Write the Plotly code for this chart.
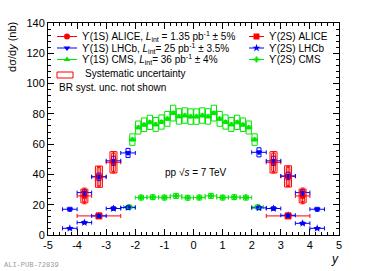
import plotly.graph_objects as go

# ---------------- data ----------------
# Upsilon(1S) ALICE
alice1s_y = [-3.75, -3.25, -2.75, 2.75, 3.25, 3.75]
alice1s_val = [25.8, 38.5, 48.0, 48.0, 38.7, 25.8]
alice1s_stat = [5.2, 6.8, 7.0, 7.0, 6.8, 5.2]
alice1s_syst = [4.5, 7.0, 7.0, 7.0, 7.0, 4.5]
alice1s_syst_unc = [3.8, 6.0, 6.0, 6.0, 6.0, 3.8]
alice1s_dy = [0.25] * 6

# Upsilon(2S) ALICE
alice2s_y = [-3.25, 3.25]
alice2s_val = [12.6, 12.6]
alice2s_stat = [1.3, 1.3]
alice2s_syst = [2.0, 2.0]
alice2s_dy = [0.75, 0.75]

# Upsilon(1S) LHCb
lhcb1s_y = [-4.25, -3.75, -3.25, -2.75, -2.25, 2.25, 2.75, 3.25, 3.75, 4.25]
lhcb1s_val = [17.0, 28.0, 38.4, 49.0, 54.2, 54.6, 49.0, 39.0, 28.0, 17.0]
lhcb1s_stat = [0.6, 0.8, 0.9, 1.0, 1.0, 1.0, 1.0, 0.9, 0.8, 0.6]
lhcb1s_syst = [1.3, 2.0, 2.5, 3.0, 3.0, 3.0, 3.0, 2.5, 2.0, 1.3]
lhcb1s_dy = [0.25] * 10

# Upsilon(2S) LHCb
lhcb2s_y = [-4.25, -3.75, -3.25, -2.75, -2.25, 2.25, 2.75, 3.25, 3.75, 4.25]
lhcb2s_val = [4.4, 8.2, 12.6, 17.5, 18.1, 17.9, 17.5, 13.0, 7.7, 4.4]
lhcb2s_stat = [0.3, 0.4, 0.5, 0.5, 0.5, 0.5, 0.5, 0.5, 0.4, 0.3]
lhcb2s_syst = [0.6, 0.8, 1.0, 1.2, 1.2, 1.2, 1.2, 1.0, 0.8, 0.6]
lhcb2s_dy = [0.25] * 10

# Upsilon(1S) CMS
cms1s_y = [-2.1, -1.9, -1.7, -1.5, -1.3, -1.1, -0.9, -0.7, -0.5, -0.3, -0.1,
           0.1, 0.3, 0.5, 0.7, 0.9, 1.1, 1.3, 1.5, 1.7, 1.9, 2.1]
cms1s_val = [63.0, 71.0, 72.8, 74.4, 73.0, 74.6, 76.7, 80.5, 78.3, 78.9, 78.2,
             78.2, 78.9, 78.3, 80.5, 76.7, 74.6, 73.0, 74.4, 72.8, 71.0, 63.0]
cms1s_stat = [1.0] * 22
cms1s_syst = [3.8, 4.3, 4.5, 4.7, 4.6, 4.7, 4.9, 5.2, 5.1, 5.1, 5.1,
              5.1, 5.1, 5.1, 5.2, 4.9, 4.7, 4.6, 4.7, 4.5, 4.3, 3.8]
cms1s_dy = [0.1] * 22

# Upsilon(2S) CMS
cms2s_y = [-2.2, -1.8, -1.4, -1.0, -0.6, -0.2, 0.2, 0.6, 1.0, 1.4, 1.8, 2.2]
cms2s_val = [18.5, 24.7, 25.0, 24.7, 25.8, 24.6, 24.7, 25.8, 24.7, 25.0, 24.7, 18.5]
cms2s_stat = [0.5] * 12
cms2s_syst = [1.3, 1.6, 1.6, 1.6, 1.7, 1.6, 1.6, 1.7, 1.6, 1.6, 1.6, 1.3]
cms2s_dy = [0.2] * 12

x_ticks = [-5, -4, -3, -2, -1, 0, 1, 2, 3, 4, 5]
x_ticktext = ["-5", "-4", "-3", "-2", "-1", "0", "1", "2", "3", "4", "5"]
y_ticks = [0, 20, 40, 60, 80, 100, 120, 140]

RED, BLUE, GREEN = "#ff0000", "#0000ff", "#00e600"
FONT = "Liberation Sans, Arial, sans-serif"

fig = go.Figure()
shapes = []


def add_boxes(xs, vals, syst, half_w, color, width=1):
    for x, v, s in zip(xs, vals, syst):
        shapes.append(dict(type="rect", xref="x", yref="y", x0=x - half_w, x1=x + half_w,
                           y0=v - s, y1=v + s, line=dict(color=color, width=width),
                           fillcolor="rgba(0,0,0,0)", layer="above"))


def add_points(xs, vals, stat, dx, color, symbol, size):
    fig.add_trace(go.Scatter(
        x=xs, y=vals, mode="markers",
        marker=dict(symbol=symbol, size=size, color=color, line=dict(width=0, color=color)),
        error_y=dict(type="data", array=stat, color=color, thickness=1, width=2),
        error_x=dict(type="data", array=dx, color=color, thickness=1, width=2),
        showlegend=False, cliponaxis=False))


# systematic boxes
add_boxes(cms1s_y, cms1s_val, cms1s_syst, 0.09, GREEN)
add_boxes(cms2s_y, cms2s_val, cms2s_syst, 0.08, GREEN)
add_boxes(lhcb1s_y, lhcb1s_val, lhcb1s_syst, 0.07, BLUE)
add_boxes(lhcb2s_y, lhcb2s_val, lhcb2s_syst, 0.07, BLUE)
add_boxes(alice1s_y, alice1s_val, alice1s_syst, 0.12, RED)
add_boxes(alice1s_y, alice1s_val, alice1s_syst_unc, 0.06, RED)
add_boxes(alice2s_y, alice2s_val, alice2s_syst, 0.1, RED)

# points
add_points(cms1s_y, cms1s_val, cms1s_stat, cms1s_dy, GREEN, "triangle-up", 6)
add_points(cms2s_y, cms2s_val, cms2s_stat, cms2s_dy, GREEN, "cross", 5)
add_points(alice1s_y, alice1s_val, alice1s_stat, alice1s_dy, RED, "circle", 6)
add_points(alice2s_y, alice2s_val, alice2s_stat, alice2s_dy, RED, "square", 6)
add_points(lhcb1s_y, lhcb1s_val, lhcb1s_stat, lhcb1s_dy, BLUE, "triangle-down", 6)
add_points(lhcb2s_y, lhcb2s_val, lhcb2s_stat, lhcb2s_dy, BLUE, "star", 6)

# ---------------- legend (pixel-like overlay axes) ----------------
leg_left = [
    ("ϒ(1S) ALICE, <i>L</i><sub>int</sub> = 1.35 pb<sup>-1</sup> ± 5%", RED, "circle", 6),
    ("ϒ(1S) LHCb, <i>L</i><sub>int</sub>= 25 pb<sup>-1</sup> ± 3.5%", BLUE, "triangle-down", 6),
    ("ϒ(1S) CMS, <i>L</i><sub>int</sub>= 36 pb<sup>-1</sup> ± 4%", GREEN, "triangle-up", 6),
]
leg_right = [
    ("ϒ(2S) ALICE", RED, "square", 6),
    ("ϒ(2S) LHCb", BLUE, "star", 6),
    ("ϒ(2S) CMS", GREEN, "cross", 5),
]
row_y = [36.5, 48.0, 59.5]
annots = []
for col, (x0, x1, xt) in zip([leg_left, leg_right], [(57, 77, 80), (249, 264, 267)]):
    for (txt, c, sym, sz), ry in zip(col, row_y):
        fig.add_trace(go.Scatter(x=[x0, x1], y=[ry, ry], mode="lines", line=dict(color=c, width=1),
                                 xaxis="x2", yaxis="y2", showlegend=False, hoverinfo="skip"))
        fig.add_trace(go.Scatter(x=[(x0 + x1) / 2], y=[ry], mode="markers",
                                 marker=dict(symbol=sym, size=sz, color=c),
                                 xaxis="x2", yaxis="y2", showlegend=False, hoverinfo="skip"))
        annots.append(dict(x=xt, y=ry, xref="x2", yref="y2", text=txt, showarrow=False,
                           xanchor="left", yanchor="middle",
                           font=dict(family=FONT, size=10, color="black")))
shapes.append(dict(type="rect", xref="x2", yref="y2", x0=57, x1=73, y0=72, y1=78,
                   line=dict(color=RED, width=1)))
annots.append(dict(x=83, y=73, xref="x2", yref="y2", text="Systematic uncertainty", showarrow=False,
                   xanchor="left", yanchor="middle", font=dict(family=FONT, size=10, color="black")))
annots.append(dict(x=57, y=87, xref="x2", yref="y2", text="BR syst. unc. not shown", showarrow=False,
                   xanchor="left", yanchor="middle", font=dict(family=FONT, size=10, color="black")))

annots.append(dict(x=-1.05, y=41.6, xref="x", yref="y", text="pp √<i>s</i> = 7 TeV", showarrow=False,
                   xanchor="left", yanchor="middle", font=dict(family=FONT, size=10, color="black")))

# axis titles & stamp
annots.append(dict(x=0, y=0.887, xref="paper", yref="paper", xshift=-36, text="dσ/d<i>y</i> (nb)",
                   textangle=-90, showarrow=False, xanchor="center", yanchor="middle",
                   font=dict(family=FONT, size=11, color="black")))
annots.append(dict(x=1, y=0, xref="paper", yref="paper", xshift=-4, yshift=-24, text="<i>y</i>",
                   showarrow=False, xanchor="center", yanchor="middle",
                   font=dict(family=FONT, size=12, color="black")))
annots.append(dict(x=0, y=0, xref="paper", yref="paper", xshift=-46, yshift=-30, text="ALI-PUB-72839",
                   showarrow=False, xanchor="left", yanchor="middle",
                   font=dict(family="Liberation Mono, DejaVu Sans Mono, monospace", size=7, color="#9a9a9a")))

axis_common = dict(showline=True, linecolor="black", linewidth=1, mirror="allticks",
                   ticks="inside", tickcolor="black", ticklen=6, tickwidth=1,
                   showgrid=False, zeroline=False,
                   tickfont=dict(family=FONT, size=11, color="black"))

fig.update_layout(
    width=374, height=271,
    margin=dict(l=48, r=35, t=23, b=36),
    paper_bgcolor="white", plot_bgcolor="white",
    showlegend=False,
    shapes=shapes, annotations=annots,
    xaxis=dict(range=[-5, 5], tickvals=x_ticks, ticktext=x_ticktext,
               minor=dict(dtick=0.2, tick0=0, ticks="inside", ticklen=3, tickcolor="black"),
               **axis_common),
    yaxis=dict(range=[0, 140], tickvals=y_ticks,
               minor=dict(dtick=4, tick0=0, ticks="inside", ticklen=3, tickcolor="black"),
               **axis_common),
    xaxis2=dict(range=[48, 339], overlaying="x", visible=False, domain=[0, 1]),
    yaxis2=dict(range=[235, 23], overlaying="y", visible=False, domain=[0, 1]),
)

fig.write_html("out.html", config={"displayModeBar": False},
               post_script="document.body.style.margin='0px';document.body.style.padding='0px';")
